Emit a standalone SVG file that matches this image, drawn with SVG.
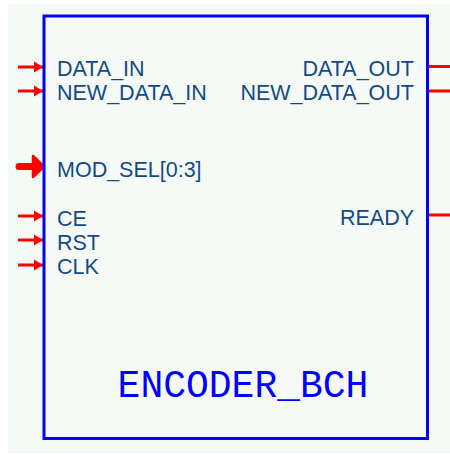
<svg xmlns="http://www.w3.org/2000/svg" width="450" height="454" viewBox="0 0 450 454">
<style>
.pin{stroke:#ff0000;stroke-width:3;fill:none}
.bus{stroke:#ff0000;stroke-width:7;stroke-linecap:round;fill:none}
.lbl{font-family:"Liberation Sans",Arial,sans-serif;font-size:21.5px;fill:#134a86}
.r{text-anchor:end}
.title{font-family:"Liberation Mono","Courier New",monospace;font-size:38px;fill:#0000ff;text-anchor:middle}
</style>
<defs>
<marker id="ah" markerUnits="userSpaceOnUse" markerWidth="10" markerHeight="12" refX="9" refY="6" orient="auto">
<path d="M0,0.5 L9,6 L0,11.5 Z" fill="#ff0000"/>
</marker>
</defs>
<rect x="8" y="4" width="442" height="449" fill="#f5faf7"/>
<g id="connectors">
<line class="pin" x1="18" y1="67" x2="43" y2="67" marker-end="url(#ah)"/>
<line class="pin" x1="18" y1="91" x2="43" y2="91" marker-end="url(#ah)"/>
<line class="bus" x1="19" y1="166.5" x2="36" y2="166.5"/>
<path d="M33,156 L44,166.5 L33,177 Z" fill="#ff0000" stroke="#ff0000" stroke-width="2.5" stroke-linejoin="round"/>
<line class="pin" x1="18" y1="216" x2="43" y2="216" marker-end="url(#ah)"/>
<line class="pin" x1="18" y1="240" x2="43" y2="240" marker-end="url(#ah)"/>
<line class="pin" x1="18" y1="265" x2="43" y2="265" marker-end="url(#ah)"/>
<line class="pin" x1="428" y1="66.5" x2="450" y2="66.5"/>
<line class="pin" x1="428" y1="91" x2="450" y2="91"/>
<line class="pin" x1="428" y1="215" x2="450" y2="215"/>
</g>
<g id="encoder_bch">
<rect x="44" y="16" width="383.5" height="422.5" fill="none" stroke="#0000ff" stroke-width="3"/>
<text class="lbl" x="57" y="76">DATA_IN</text>
<text class="lbl" x="57" y="100">NEW_DATA_IN</text>
<text class="lbl" x="57" y="177">MOD_SEL[0:3]</text>
<text class="lbl" x="57" y="226">CE</text>
<text class="lbl" x="57" y="250">RST</text>
<text class="lbl" x="57" y="274">CLK</text>
<text class="lbl r" x="414" y="76">DATA_OUT</text>
<text class="lbl r" x="414" y="100">NEW_DATA_OUT</text>
<text class="lbl r" x="414" y="225">READY</text>
<text class="title" x="243" y="397">ENCODER_BCH</text>
</g>
</svg>
